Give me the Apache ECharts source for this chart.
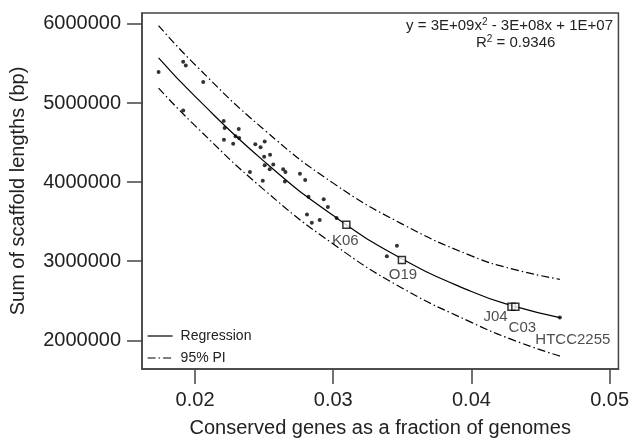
<!DOCTYPE html>
<html>
<head>
<meta charset="utf-8">
<script src="https://cdn.jsdelivr.net/npm/echarts@6/dist/echarts.min.js"></script>
<style>
  html, body { margin: 0; padding: 0; background: #fff; }
  #main { width: 632px; height: 443px; }
</style>
</head>
<body>
<div id="main"></div>
<script>
// scatter points (fraction of genomes, sum of scaffold lengths)
var ptX = [0.01736, 0.01914, 0.01933, 0.02059, 0.01914, 0.02207, 0.02214, 0.02316, 0.02209, 0.02293,
           0.02319, 0.02276, 0.02436, 0.02474, 0.02504, 0.02500, 0.02543, 0.02504, 0.02540, 0.02566,
           0.02397, 0.02490, 0.02638, 0.02654, 0.02650, 0.02759, 0.02797, 0.02821, 0.02931, 0.02961,
           0.02810, 0.02845, 0.02902, 0.03024, 0.03461, 0.03388];
var ptY = [5391000, 5521000, 5475000, 5266000, 4904000, 4771000, 4684000, 4671000, 4534000, 4579000,
           4559000, 4484000, 4479000, 4441000, 4512000, 4321000, 4346000, 4212000, 4162000, 4221000,
           4129000, 4016000, 4162000, 4129000, 4009000, 4104000, 4025000, 3816000, 3784000, 3684000,
           3591000, 3487000, 3521000, 3546000, 3196000, 3062000];

// labelled genomes
var namedLabels = ['K06', 'O19', 'J04', 'C03', 'HTCC2255'];
var namedX = [0.03095, 0.03497, 0.04290, 0.04318, 0.04640];
var namedY = [3462000, 3016000, 2425000, 2425000, 2288000];

// regression curve and 95% prediction interval
var curveX = [0.01736, 0.0200, 0.0250, 0.0300, 0.0350, 0.0400, 0.0430, 0.0464];
var regY   = [5571000, 5083000, 4262000, 3577000, 3029000, 2617000, 2435000, 2288000];
var upperY = [5979000, 5483000, 4662000, 3987000, 3469000, 3067000, 2900000, 2771000];
var lowerY = [5187000, 4713000, 3902000, 3217000, 2659000, 2227000, 2005000, 1800000];

var xTicks = [0.02, 0.03, 0.04, 0.05];
var yTicks = [2000000, 3000000, 4000000, 5000000, 6000000];

function pairs(xs, ys) {
    var out = [];
    for (var i = 0; i < xs.length; i++) out.push([xs[i], ys[i]]);
    return out;
}

var txt = '#222';
var axisCol = '#444';
var font = 'Liberation Sans, Arial, sans-serif';
var piDash = [8, 3, 1.5, 3];

// label offsets relative to each marker centre
var labelOffsets = [[-1, 16], [1, 15], [-16, 10], [7, 21], [13, 22]];
var namedData = [];
for (var i = 0; i < namedLabels.length; i++) {
    var last = namedLabels[i] == 'HTCC2255';
    namedData.push({
        value: [namedX[i], namedY[i]],
        name: namedLabels[i],
        symbol: last ? 'circle' : 'rect',
        symbolSize: last ? 4 : 7,
        itemStyle: last ? {color: '#000', borderWidth: 0} : {color: '#fff', borderColor: '#000', borderWidth: 1.5},
        label: {offset: labelOffsets[i]}
    });
}

var eqRich = {
    a: {fontSize: 15, fontFamily: font, fill: txt, lineHeight: 18},
    b: {fontSize: 10, fontFamily: font, fill: txt, lineHeight: 18, padding: [0, 0, 8, 0]}
};

var dom = document.getElementById('main');
var myChart = echarts.init(dom, null, {renderer: 'canvas'});
var option = {
    animation: false,
    textStyle: {fontFamily: font},
    grid: {
        left: 139, right: 11, top: 13, bottom: 70,
        show: true, borderColor: axisCol, borderWidth: 1.5, backgroundColor: 'transparent'
    },
    legend: {
        data: ['Regression', '95% PI'],
        orient: 'vertical',
        left: 147, top: 329,
        itemWidth: 25, itemHeight: 14, itemGap: 8,
        padding: 0,
        itemStyle: {opacity: 0},
        lineStyle: {color: '#000', width: 1.2},
        textStyle: {color: txt, fontSize: 14, fontFamily: font, padding: [0, 0, 0, 3]}
    },
    xAxis: {
        type: 'value',
        min: 0.01616, max: 0.05064,
        name: 'Conserved genes as a fraction of genomes',
        nameLocation: 'middle',
        nameGap: 49,
        nameTextStyle: {color: txt, fontSize: 20, fontFamily: font},
        axisLine: {show: true, onZero: false, lineStyle: {color: axisCol, width: 1.5}},
        axisTick: {show: true, inside: false, length: 15, customValues: xTicks, lineStyle: {color: axisCol, width: 1.5}},
        axisLabel: {
            customValues: xTicks, margin: 21, color: txt, fontSize: 20, fontFamily: font,
            formatter: function (v) { return v.toFixed(2); }
        },
        splitLine: {show: false}
    },
    yAxis: {
        type: 'value',
        min: 1637500, max: 6137500,
        name: 'Sum of scaffold lengths (bp)',
        nameLocation: 'middle',
        nameGap: 114,
        nameTextStyle: {color: txt, fontSize: 20, fontFamily: font},
        axisLine: {show: true, onZero: false, lineStyle: {color: axisCol, width: 1.5}},
        axisTick: {show: true, inside: false, length: 15, customValues: yTicks, lineStyle: {color: axisCol, width: 1.5}},
        axisLabel: {
            customValues: yTicks, margin: 21, color: txt, fontSize: 20, fontFamily: font,
            formatter: function (v) { return String(v); }
        },
        splitLine: {show: false}
    },
    graphic: [
        {
            type: 'text', right: 19, top: 17,
            style: {text: '{a|y = 3E+09x}{b|2}{a| - 3E+08x + 1E+07}', rich: eqRich}
        },
        {
            type: 'text', left: 476, top: 34,
            style: {text: '{a|R}{b|2}{a| = 0.9346}', rich: eqRich}
        }
    ],
    series: [
        {
            name: 'Regression',
            type: 'line',
            smooth: true,
            symbol: 'none',
            data: pairs(curveX, regY),
            lineStyle: {color: '#000', width: 1.2},
            itemStyle: {color: '#000'},
            z: 3
        },
        {
            name: '95% PI',
            type: 'line',
            smooth: true,
            symbol: 'none',
            data: pairs(curveX, upperY),
            lineStyle: {color: '#000', width: 1.2, type: piDash},
            itemStyle: {color: '#000'},
            z: 3
        },
        {
            name: '95% PI',
            type: 'line',
            smooth: true,
            symbol: 'none',
            data: pairs(curveX, lowerY),
            lineStyle: {color: '#000', width: 1.2, type: piDash},
            itemStyle: {color: '#000'},
            z: 3
        },
        {
            name: 'genomes',
            type: 'scatter',
            symbol: 'circle',
            symbolSize: 4,
            data: pairs(ptX, ptY),
            itemStyle: {color: '#000'},
            z: 4
        },
        {
            name: 'named',
            type: 'scatter',
            data: namedData,
            label: {
                show: true, position: 'inside',
                formatter: '{b}', color: txt, fontSize: 15, fontFamily: font
            },
            z: 5
        }
    ]
};
if (option && typeof option == "object") {
    myChart.setOption(option, true);
}
</script>
</body>
</html>
